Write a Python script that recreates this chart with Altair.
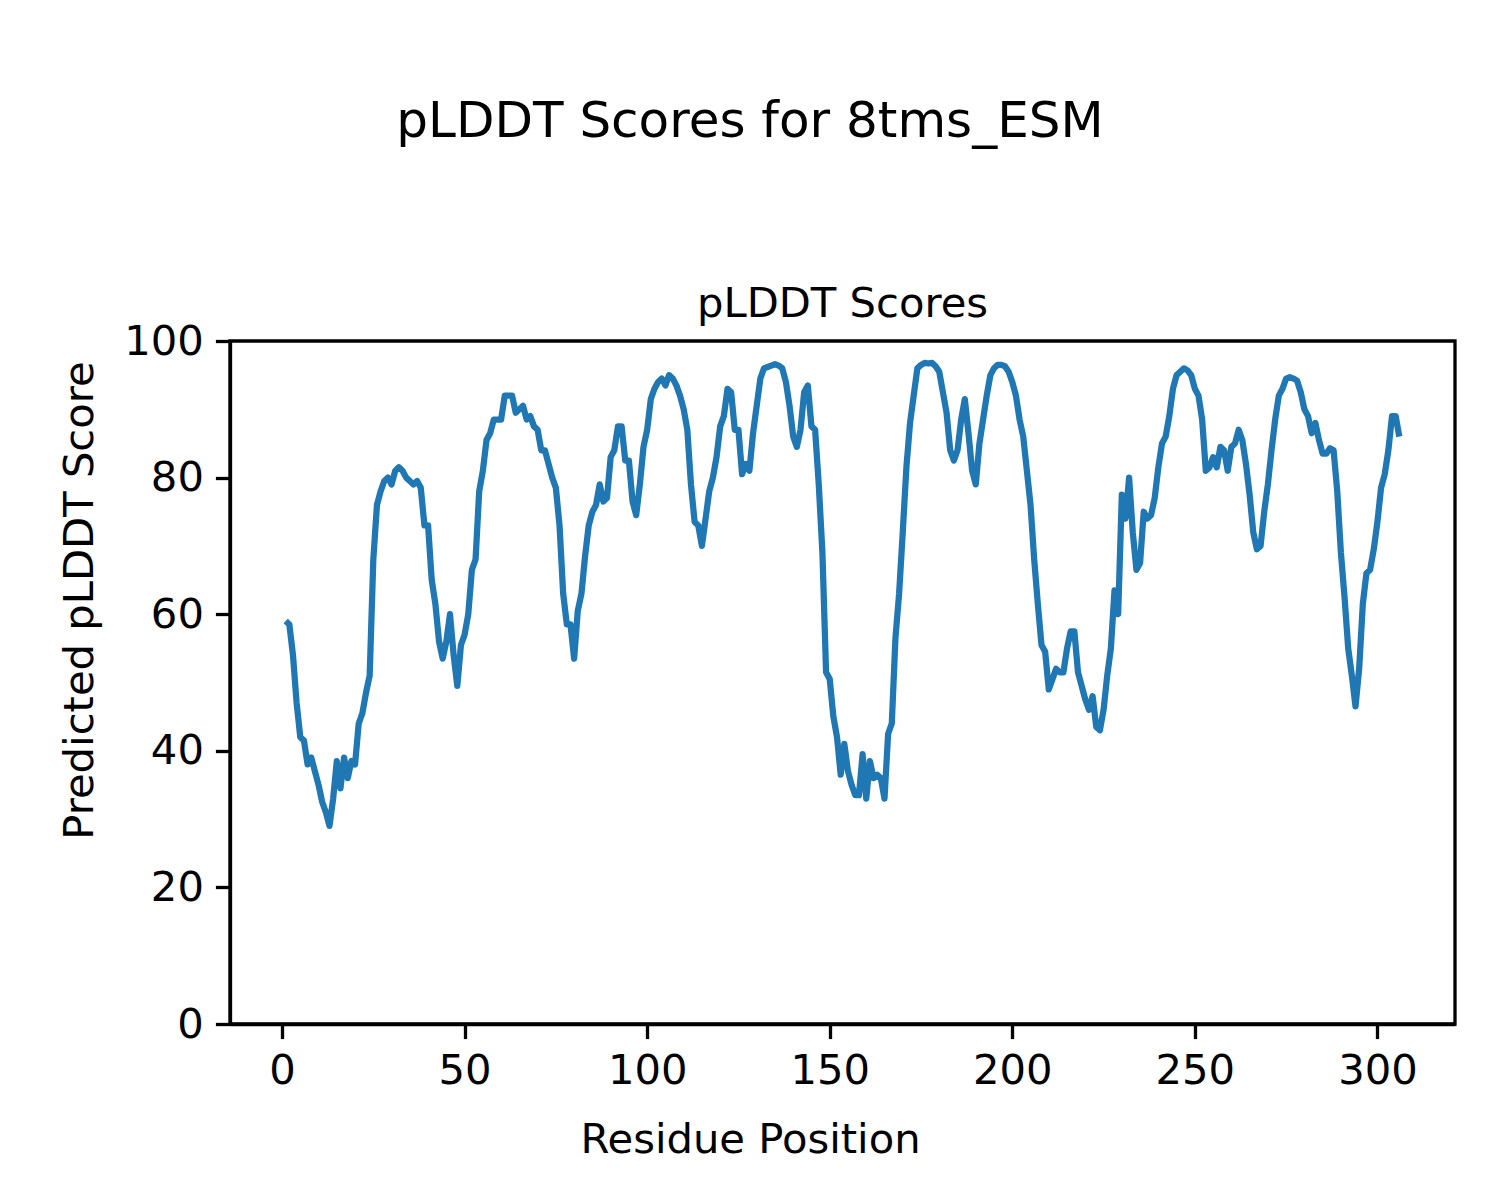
import altair as alt
import pandas as pd

suptitle = "pLDDT Scores for 8tms_ESM"
axes_title = "pLDDT Scores"
x_label = "Residue Position"
y_label = "Predicted pLDDT Score"

residues = list(range(1, 307))
scores = [
    59, 58.5, 54, 47, 42, 41.5, 38, 39, 37, 35,
    32.5, 31, 29, 33, 38.5, 34.5, 39, 36, 38.5, 38,
    44, 45.5, 48.5, 51, 68, 76, 78, 79.5, 80, 79,
    81, 81.5, 81, 80, 79.5, 79, 79.5, 78.5, 73, 73,
    65, 61.5, 56, 53.5, 56, 60, 54, 49.5, 55.5, 57,
    60, 66.5, 68, 78, 81, 85.5, 86.5, 88.5, 88.5, 88.5,
    92, 92, 92, 89.5, 90, 90.5, 88.5, 89, 87.5, 87,
    84, 84, 82, 80, 78.5, 73, 63, 58.5, 58.5, 53.5,
    60.5, 63, 68.5, 73, 75, 76, 79, 76.5, 77, 83,
    84, 87.5, 87.5, 82.5, 82.5, 76.5, 74.5, 79, 84.5, 87,
    91.5, 93, 94, 94.5, 93.5, 95, 94.5, 93.5, 92, 90,
    87, 79, 73.5, 73, 70, 74, 78, 80, 83, 87.5,
    89, 93, 92.5, 87, 87, 80.5, 82, 81, 86.5, 90.5,
    94.5, 96, 96.2, 96.4, 96.6, 96.4, 96, 94, 90.5, 86,
    84.5, 87, 92.5, 93.5, 87.5, 87, 79, 69, 51.5, 50.5,
    45, 42, 36.5, 41, 37, 35, 33.5, 33.5, 39.5, 33,
    38.5, 36, 36.5, 36, 33, 42.5, 44, 56.5, 63, 72,
    81.5, 88, 92, 96, 96.5, 96.8, 96.7, 96.8, 96.3, 95.5,
    92.5, 89.5, 84, 82.5, 84, 88.5, 91.5, 86.5, 81, 79,
    85, 88.5, 92, 95, 96, 96.5, 96.5, 96.3, 95.5, 94,
    92, 88.5, 86, 81, 76, 68, 61.5, 55.5, 54.5, 49,
    50.5, 52, 51.5, 51.5, 55, 57.5, 57.5, 51.5, 49.5, 47.5,
    46, 48, 43.5, 43, 46, 51, 55, 63.5, 60, 77.5,
    74, 80, 72, 66.5, 67.5, 75, 74, 74.5, 77, 81.5,
    85, 86, 89, 93, 95, 95.5, 96, 95.7, 95, 93,
    92, 88.5, 81, 81.5, 83, 81.5, 84.5, 84, 81, 84.5,
    85, 87, 85.5, 82, 77.5, 72, 69.5, 70, 75, 79,
    84, 88.5, 92, 93, 94.5, 94.7, 94.5, 94.2, 92.5, 90,
    89, 86.5, 88, 85.5, 83.5, 83.5, 84.3, 84, 78, 69,
    62.5, 55, 51, 46.5, 52, 61.5, 66, 66.5, 69.5, 73.5,
    78.5, 80.5, 84, 89, 89, 86,
]
x_ticks = [0, 50, 100, 150, 200, 250, 300]
y_ticks = [0, 20, 40, 60, 80, 100]

df = pd.DataFrame({"residue": residues, "score": scores})
FONT = "DejaVu Sans"

line = alt.Chart(df).mark_line(
    color="#1f77b4", strokeWidth=6.25, strokeJoin="round"
).encode(
    x=alt.X(
        "residue:Q",
        scale=alt.Scale(domain=[-14.25, 321.25], nice=False, zero=False),
        axis=alt.Axis(
            values=x_ticks, title=x_label, titleX=520, titleY=128,
            titleBaseline="alphabetic", titleAnchor="middle", titleAlign="center",
        ),
    ),
    y=alt.Y(
        "score:Q",
        scale=alt.Scale(domain=[0, 100], nice=False),
        axis=alt.Axis(
            values=y_ticks, title=y_label, titleX=-138, titleY=259,
            titleBaseline="alphabetic", titleAngle=-90, titleAlign="center",
        ),
    ),
)

sup = alt.Chart(pd.DataFrame({"t": [suptitle]})).mark_text(
    font=FONT, fontSize=50, align="center", baseline="alphabetic", color="black"
).encode(x=alt.value(520), y=alt.value(-204), text="t:N")

sub = alt.Chart(pd.DataFrame({"t": [axes_title]})).mark_text(
    font=FONT, fontSize=41.7, align="center", baseline="alphabetic", color="black"
).encode(x=alt.value(612.5), y=alt.value(-24), text="t:N")

chart = alt.layer(line, sup, sub).properties(
    width=1225,
    height=683,
    padding={"left": 222, "top": 333, "right": 37, "bottom": 168},
    autosize=alt.AutoSizeParams(type="none"),
).configure_axis(
    grid=False,
    labelFont=FONT, labelFontSize=41.7, labelColor="black",
    titleFont=FONT, titleFontSize=41.7, titleFontWeight="normal", titleColor="black",
    domainColor="black", domainWidth=3.3,
    tickColor="black", tickWidth=3.3, tickSize=14.6, labelPadding=12,
).configure_view(stroke="black", strokeWidth=3.3)

chart.save("out.html", embed_options={"renderer": "svg", "actions": False})
